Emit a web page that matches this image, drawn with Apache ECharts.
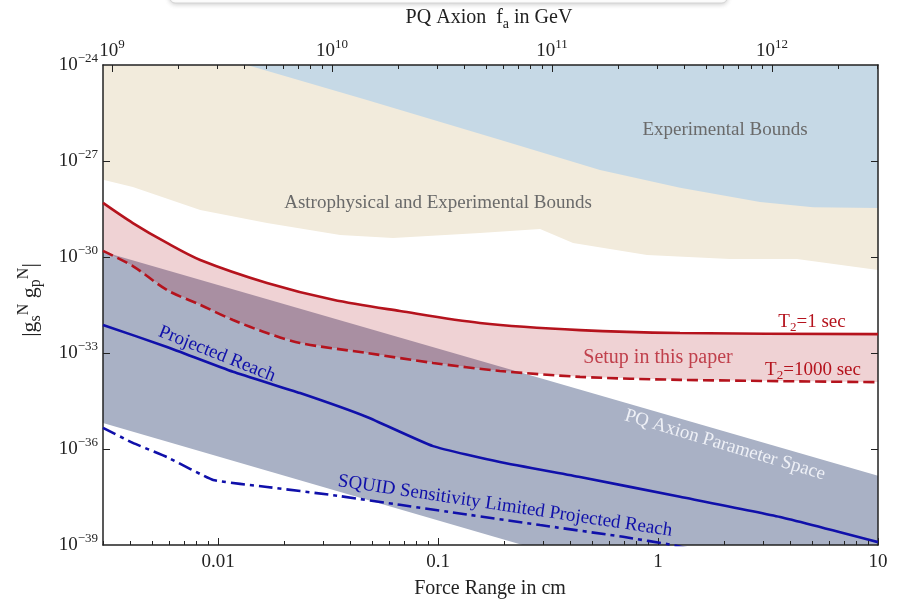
<!DOCTYPE html>
<html>
<head>
<meta charset="utf-8">
<script src="https://cdn.jsdelivr.net/npm/echarts@6/dist/echarts.min.js"></script>
<style>
  html, body { margin: 0; padding: 0; background: #fff; }
  #chart { width: 897px; height: 601px; }
  #err { position: absolute; left: 120px; top: 300px; color: #c00; font: 13px monospace; z-index: 9; }
</style>
</head>
<body>
<div id="chart"></div>
<div id="err"></div>
<script>
const FONT = 'Liberation Serif';

// axis ranges
const xMin = 0.003, xMax = 10;          // force range, cm
const yMin = 1e-39, yMax = 1e-24;       // |gs gp|
const faMin = 9.1e8, faMax = 3.03e12;   // PQ axion fa, GeV

// tick labels
const xTickLabels = [0.01, 0.1, 1, 10];
const yTickLabels = [1e-39, 1e-36, 1e-33, 1e-30, 1e-27, 1e-24];
const faTickLabels = [1e9, 1e10, 1e11, 1e12];

// bound regions (lower edges, filled up to the top of the frame)
const astroLow = [
  [0.003, 2.6e-28], [0.0041, 1.55e-28], [0.0083, 2.95e-29], [0.0167, 1.15e-29],
  [0.0359, 4.9e-30], [0.0624, 3.9e-30], [0.155, 5.6e-30], [0.291, 7.5e-30],
  [0.411, 2.75e-30], [0.891, 1.15e-30], [2.12, 8.7e-31], [4.28, 8.7e-31], [10, 3.9e-31]
];
const expLow = [
  [0.01355, 1e-24], [0.0475, 8.1e-26], [0.191, 4.6e-27], [0.545, 5.2e-28],
  [1.26, 1.45e-28], [2.91, 5.2e-29], [5.07, 3.6e-29], [10, 3.4e-29]
];

// PQ axion band
const pqTop = [[0.003, 1.45e-30], [10, 1.45e-37]];
const pqBottom = [[0.003, 6.5e-36], [10, 5.9e-43]];

// this setup: T2 = 1 s and T2 = 1000 s
const t2Short = [
  [0.003, 4.9e-29], [0.0041, 1.15e-29], [0.00586, 2.75e-30], [0.0083, 8.1e-31],
  [0.0167, 1.55e-31], [0.0334, 4.6e-32], [0.0671, 2.05e-32], [0.155, 8.7e-33],
  [0.442, 5.2e-33], [1.26, 4.2e-33], [10, 3.9e-33]
];
const t2Long = [
  [0.003, 1.55e-30], [0.0041, 5.2e-31], [0.00586, 9.3e-32], [0.0083, 3.2e-32],
  [0.0117, 1.07e-32], [0.0167, 4.2e-33], [0.0236, 2.05e-33], [0.0475, 1.0e-33],
  [0.0949, 4.9e-34], [0.191, 2.75e-34], [0.442, 1.8e-34], [1.26, 1.45e-34], [10, 1.23e-34]
];

// projected reach lines
const projReach = [
  [0.003, 7.5e-33], [0.00586, 1.55e-33], [0.0117, 2.6e-34], [0.0236, 5.6e-35],
  [0.0475, 1.0e-35], [0.0949, 1.23e-36], [0.191, 3.9e-37], [0.442, 1.33e-37],
  [1.26, 3.2e-38], [3.59, 7.5e-39], [10, 1.23e-39]
];
const squidReach = [
  [0.003, 4.6e-36], [0.0041, 1.55e-36], [0.00586, 5.6e-37], [0.0095, 1.07e-37],
  [0.0167, 6.5e-38], [0.0334, 3.6e-38], [0.0671, 1.8e-38], [0.1135, 1.07e-38],
  [0.291, 4.2e-39], [0.694, 1.8e-39], [1.17, 1.0e-39], [1.4, 7.5e-40]
];

// minor ticks (Mathematica style)
function decadeTicks(from, to) {
  const out = [];
  for (let e = from; e <= to; e++) for (let k = 1; k <= 9; k++) out.push(k * Math.pow(10, e));
  return out;
}
const xMinor = decadeTicks(-3, 0).filter(v => v >= xMin && v <= xMax);
const faMinor = decadeTicks(9, 12).filter(v => v >= faMin && v <= faMax);

const ink = '#222';
const rich = {
  b: { fontFamily: FONT, fontSize: 19, lineHeight: 26, color: ink },
  s: { fontFamily: FONT, fontSize: 13, lineHeight: 13, verticalAlign: 'top', color: ink }
};
function isDecade(v) { const e = Math.log10(v); return Math.abs(e - Math.round(e)) < 1e-6; }
function powLabel(v) {
  if (!isDecade(v)) return '';
  const e = Math.round(Math.log10(v));
  return '{b|10}{s|' + String(e).replace('-', '\u2212') + '}';
}
function yLabel(v) {
  if (!isDecade(v)) return '';
  const e = Math.round(Math.log10(v));
  return yTickLabels.some(t => Math.round(Math.log10(t)) === e) ? powLabel(v) : '';
}
function plainLabel(v) {
  if (!isDecade(v)) return '';
  const e = Math.round(Math.log10(v));
  return e < 0 ? v.toFixed(-e) : String(Math.round(v));
}

function frameAxis(pos, min, max, opts) {
  const a = {
    type: 'log', position: pos, min: min, max: max, gridIndex: 0,
    axisLine: { show: opts.line, onZero: false, lineStyle: { color: ink, width: 1.5 } },
    axisTick: { show: true, inside: true, length: opts.len, lineStyle: { color: ink, width: 1 } },
    axisLabel: { show: !!opts.fmt, formatter: opts.fmt, rich: rich,
      fontFamily: FONT, fontSize: 19, color: ink, margin: opts.margin || 8 },
    splitLine: { show: false }
  };
  if (opts.base) a.logBase = opts.base;
  if (opts.ticks) a.axisTick.customValues = opts.ticks;
  if (opts.labels) a.axisLabel.customValues = opts.labels;
  return a;
}

function pts(api, upper, lower) {
  return upper.map(p => api.coord(p)).concat(lower.slice().reverse().map(p => api.coord(p)));
}
function region(upper, lower, fill, z, overlap) {
  return {
    type: 'custom', xAxisIndex: 0, yAxisIndex: 0, z: z, silent: true, animation: false,
    data: [upper[0]],
    renderItem: function (params, api) {
      const cs = params.coordSys;
      const children = [{ type: 'polygon', shape: { points: pts(api, upper, lower) }, style: { fill: fill } }];
      if (overlap) {
        children.push({
          type: 'polygon', shape: { points: pts(api, upper, lower) }, style: { fill: overlap.fill },
          clipPath: { type: 'polygon', shape: { points: pts(api, overlap.upper, overlap.lower) } }
        });
      }
      return {
        type: 'group', children: children,
        clipPath: { type: 'rect', shape: { x: cs.x, y: cs.y, width: cs.width, height: cs.height } }
      };
    }
  };
}
function curve(data, color, type, smooth) {
  return {
    type: 'line', xAxisIndex: 0, yAxisIndex: 0, data: data, z: 10, silent: true,
    showSymbol: false, symbol: 'none', animation: false, clip: true, smooth: smooth || false,
    lineStyle: { color: color, width: 2.6, type: type, cap: 'butt' }
  };
}

const red = '#b5131d', navy = '#1010aa';
const frameTop = [[xMin, yMax], [xMax, yMax]];

function note(text, x, y, color, rot, size) {
  const fs = size || 19;
  return {
    type: 'text', x: x, y: y, rotation: rot || 0, z: 50, silent: true,
    style: {
      text: text, fill: color, font: fs + 'px "' + FONT + '"', align: 'center', verticalAlign: 'middle',
      rich: {
        n: { fontFamily: FONT, fontSize: fs, lineHeight: fs + 6, fill: color },
        sub: { fontFamily: FONT, fontSize: fs - 6, lineHeight: fs - 6, verticalAlign: 'bottom', fill: color },
        sup: { fontFamily: FONT, fontSize: fs - 6, lineHeight: fs - 6, verticalAlign: 'top', fill: color }
      }
    }
  };
}

// end labels of the y axis (the log scale drops them), placed through the axis itself
function edgeLabel(chart, v) {
  const x = chart.convertToPixel({ xAxisIndex: 0 }, xMin) - 5;
  const y = chart.convertToPixel({ yAxisIndex: 0 }, v);
  return {
    type: 'text', x: x, y: y, z: 50, silent: true,
    style: {
      text: powLabel(v), align: 'right', verticalAlign: 'middle', fill: ink,
      rich: {
        b: { fontFamily: FONT, fontSize: 19, lineHeight: 26, fill: ink },
        s: { fontFamily: FONT, fontSize: 13, lineHeight: 13, verticalAlign: 'top', fill: ink }
      }
    }
  };
}

try {
  const chart = echarts.init(document.getElementById('chart'), null, { renderer: 'canvas' });
  chart.setOption({
    animation: false,
    backgroundColor: '#fff',
    grid: { left: 103, right: 19, top: 65, bottom: 56, containLabel: false, outerBoundsMode: 'none' },
    xAxis: [
      frameAxis('bottom', xMin, xMax, { line: true, len: 7, ticks: xTickLabels, labels: xTickLabels, fmt: plainLabel, margin: 8 }),
      frameAxis('bottom', xMin, xMax, { line: false, len: 4, ticks: xMinor }),
      frameAxis('top', faMin, faMax, { line: true, len: 7, ticks: faTickLabels, labels: faTickLabels, fmt: powLabel, margin: 1 }),
      frameAxis('top', faMin, faMax, { line: false, len: 4, ticks: faMinor })
    ],
    yAxis: [
      frameAxis('left', yMin, yMax, { line: true, len: 7, base: 1000, fmt: yLabel, margin: 5 }),
      frameAxis('right', yMin, yMax, { line: true, len: 7, base: 1000 })
    ],
    series: [
      region(frameTop, astroLow, '#f2ebdc', -4),
      region([[expLow[0][0], yMax], [xMax, yMax]], expLow, '#c6d9e6', -3),
      region(pqTop, pqBottom, '#a9b1c5', -2),
      region(t2Short, t2Long, '#efd2d4', -1, { upper: pqTop, lower: pqBottom, fill: '#a98fa2' }),
      curve(t2Short, red, 'solid', 0.3),
      curve(t2Long, red, [11, 5], 0.3),
      curve(projReach, navy, 'solid', 0.15),
      curve(squidReach, navy, [14, 5, 4, 5], 0.1)
    ]
  });

  chart.setOption({
    graphic: [
      { type: 'rect', z: 60, silent: true, shape: { x: 170, y: -24, width: 557, height: 27, r: 5 },
        style: { fill: '#fff', stroke: '#d4d4d4', lineWidth: 1, shadowBlur: 5, shadowColor: 'rgba(0,0,0,0.18)', shadowOffsetY: 1 } },
      note('{n|PQ Axion  f}{sub|a}{n| in GeV}', 489, 18, ink, 0, 20),
      note('Force Range in cm', 490, 589, ink, 0, 20),
      note('{n||g}{sub|s}{sup|N}{n| g}{sub|p}{sup|N}{n||}', 30, 300, ink, Math.PI / 2, 22),
      note('Experimental Bounds', 725, 130, '#6a6a6a'),
      note('Astrophysical and Experimental Bounds', 438, 203, '#6a6a6a'),
      note('{n|T}{sub|2}{n|=1 sec}', 812, 322, red),
      note('Setup in this paper', 658, 358, '#c0404c', 0, 20),
      note('{n|T}{sub|2}{n|=1000 sec}', 813, 370, red),
      note('Projected Reach', 217, 354, navy, -0.38),
      note('PQ Axion Parameter Space', 725, 445, '#eef0f6', -0.29),
      note('SQUID Sensitivity Limited Projected Reach', 505, 506, navy, -0.148),
      edgeLabel(chart, yMax),
      edgeLabel(chart, yMin)
    ]
  });
} catch (e) {
  document.getElementById('err').textContent = String(e && e.stack || e).slice(0, 300);
}
</script>
</body>
</html>
